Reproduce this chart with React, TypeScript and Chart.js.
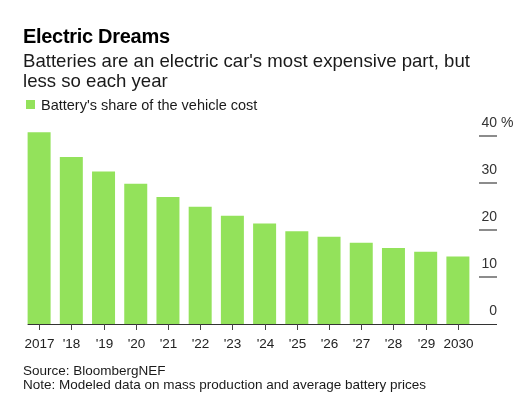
import React, { useEffect, useRef } from "react";
import { Chart, registerables } from "chart.js";

Chart.register(...registerables);

const years = ["2017", "'18", "'19", "'20", "'21", "'22", "'23", "'24", "'25", "'26", "'27", "'28", "'29", "2030"];
const batteryShare = [40.9, 35.6, 32.5, 29.9, 27.1, 25.0, 23.1, 21.4, 19.8, 18.6, 17.3, 16.2, 15.4, 14.4];
const yTickValues = [0, 10, 20, 30, 40];
const yTopSuffix = " %";

const TITLE = "Electric Dreams";
const SUBTITLE_1 = "Batteries are an electric car's most expensive part, but";
const SUBTITLE_2 = "less so each year";
const LEGEND = "Battery's share of the vehicle cost";
const SOURCE = "Source: BloombergNEF";
const NOTE = "Note: Modeled data on mass production and average battery prices";

const GREEN = "#93e25b";
const FONT = '"Liberation Sans", Arial, Helvetica, sans-serif';

const axesPlugin = {
  id: "bbgAxes",
  afterDatasetsDraw(chart: any) {
    const { ctx, scales } = chart;
    const x = scales.x;
    const y = scales.y;
    const y0 = y.getPixelForValue(0);
    const meta = chart.getDatasetMeta(0);
    const first = meta.data[0];
    const left = first.x - first.width / 2;
    const tickRight = 497;
    const tickLeft = 479;
    ctx.save();

    // y ticks (short segments on the right) and labels above them
    ctx.font = `14px ${FONT}`;
    ctx.textBaseline = "alphabetic";
    yTickValues.forEach((v, i) => {
      const py = Math.round(y.getPixelForValue(v));
      if (v !== 0) {
        ctx.strokeStyle = "#8c8c8c";
        ctx.lineWidth = 2;
        ctx.beginPath();
        ctx.moveTo(tickLeft, py);
        ctx.lineTo(tickRight, py);
        ctx.stroke();
      }
      ctx.fillStyle = "#333";
      ctx.textAlign = "right";
      const label = String(v);
      ctx.fillText(label, tickRight, py - 9);
      if (i === yTickValues.length - 1) {
        ctx.textAlign = "left";
        ctx.fillText(yTopSuffix, tickRight, py - 9);
      }
    });

    // baseline
    ctx.strokeStyle = "#333";
    ctx.lineWidth = 1;
    ctx.beginPath();
    ctx.moveTo(left, Math.round(y0) + 0.5);
    ctx.lineTo(tickRight, Math.round(y0) + 0.5);
    ctx.stroke();

    // x ticks and labels
    ctx.font = `13.5px ${FONT}`;
    ctx.textAlign = "center";
    ctx.fillStyle = "#222";
    x.ticks.forEach((t: any, i: number) => {
      const px = Math.round(x.getPixelForTick(i)) + 0.5;
      ctx.strokeStyle = "#444";
      ctx.lineWidth = 1;
      ctx.beginPath();
      ctx.moveTo(px, Math.round(y0));
      ctx.lineTo(px, Math.round(y0) + 6);
      ctx.stroke();
      ctx.fillText(years[i], px, 348);
    });
    ctx.restore();
  },
};

export default function App() {
  const canvasRef = useRef<HTMLCanvasElement | null>(null);

  useEffect(() => {
    if (!canvasRef.current) return;
    const chart = new Chart(canvasRef.current, {
      type: "bar",
      data: {
        labels: years,
        datasets: [
          {
            label: LEGEND,
            data: batteryShare,
            backgroundColor: GREEN,
            borderWidth: 0,
            barPercentage: 0.714,
            categoryPercentage: 1,
          },
        ],
      },
      options: {
        responsive: false,
        animation: false,
        devicePixelRatio: 1,
        layout: { padding: { left: 23, right: 53, top: 127, bottom: 95 } },
        plugins: {
          legend: { display: false },
          title: { display: false },
          tooltip: { enabled: false },
        },
        scales: {
          x: { display: false, offset: true },
          y: { display: false, min: 0, max: 42, ticks: { stepSize: 10 } },
        },
      },
      plugins: [axesPlugin],
    });
    return () => chart.destroy();
  }, []);

  const textBase: React.CSSProperties = {
    position: "absolute",
    left: 23,
    fontFamily: FONT,
    whiteSpace: "nowrap",
    margin: 0,
  };

  return (
    <div style={{ position: "absolute", left: 0, top: 0, width: 527, height: 419, background: "#fff", overflow: "hidden" }}>
      <canvas ref={canvasRef} width={527} height={419} style={{ position: "absolute", left: 0, top: 0, width: 527, height: 419 }} />
      <div style={{ ...textBase, top: 24, fontSize: 20, lineHeight: "24px", fontWeight: 700, letterSpacing: "-0.3px", color: "#000" }}>
        {TITLE}
      </div>
      <div style={{ ...textBase, top: 51, fontSize: 18.6, lineHeight: "20px", color: "#1a1a1a" }}>
        {SUBTITLE_1}
        <br />
        {SUBTITLE_2}
      </div>
      <div style={{ position: "absolute", left: 26, top: 100, width: 9, height: 9, background: GREEN }} />
      <div style={{ ...textBase, left: 41, top: 96.5, fontSize: 14.5, lineHeight: "17px", color: "#1a1a1a" }}>
        {LEGEND}
      </div>
      <div style={{ ...textBase, top: 364.2, fontSize: 13.5, lineHeight: "13.5px", color: "#1a1a1a" }}>
        {SOURCE}
        <br />
        {NOTE}
      </div>
    </div>
  );
}
